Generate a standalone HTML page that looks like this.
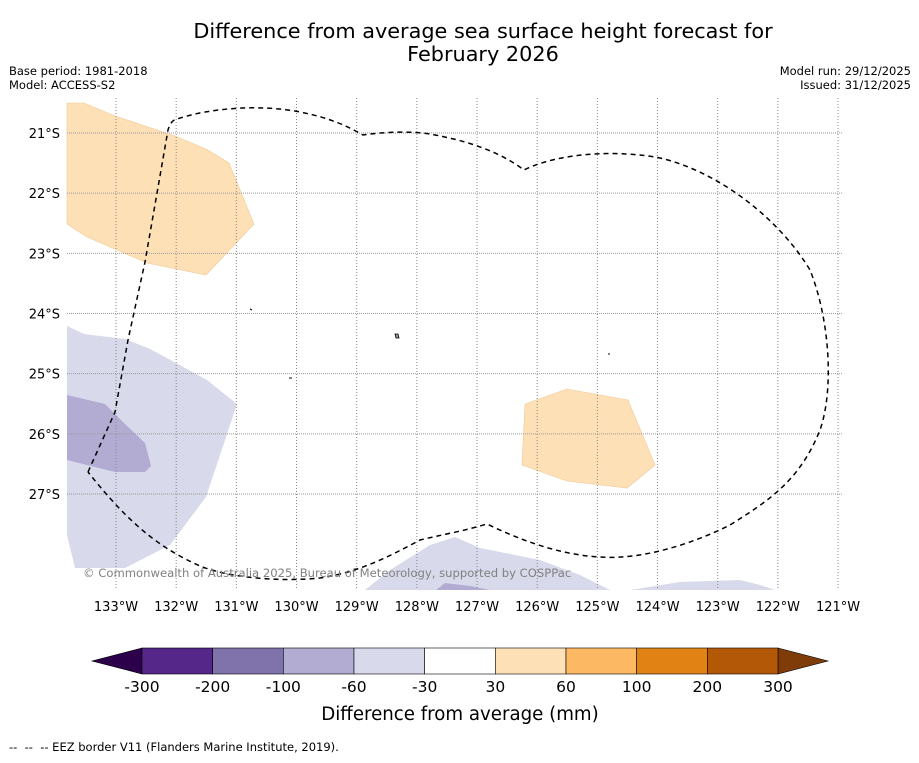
<!DOCTYPE html>
<html><head><meta charset="utf-8"><style>
body{margin:0;background:#fff;}
svg text{font-family:"DejaVu Sans","Liberation Sans",sans-serif;}
</style></head><body>
<svg id="fig" width="919" height="758" xmlns="http://www.w3.org/2000/svg">
<text x="483" y="38" font-size="20.8" text-anchor="middle">Difference from average sea surface height forecast for</text>
<text x="483" y="61" font-size="20.8" text-anchor="middle">February 2026</text>
<text x="9" y="75" font-size="11.5">Base period: 1981-2018</text>
<text x="9" y="89" font-size="11.5">Model: ACCESS-S2</text>
<text x="911" y="75" font-size="11.5" text-anchor="end">Model run: 29/12/2025</text>
<text x="911" y="89" font-size="11.5" text-anchor="end">Issued: 31/12/2025</text>
<g id="map">
<polygon fill="#fee0b6" stroke="#f0c896" stroke-width="0.6" points="67,103 84,103 115,116 175,136 206,149 229,163 254,224 206,275 147,263 87,237 67,224"/>
<polygon fill="#d8daeb" points="67,326 84,334 125,339 150,349 176,363 207,380 237,404 206,497 170,545 125,568 75,568 67,535"/>
<polygon fill="#b2abd2" points="67,395 105,404 125,424 145,443 151,466 145,472 115,472 67,460"/>
<polygon fill="#fee0b6" stroke="#f0c896" stroke-width="0.6" points="525,404 567,389 628,400 655,465 627,488 567,481 522,465"/>
<polygon fill="#d8daeb" points="365,590 390,570 430,545 455,537 480,548 540,560 580,575 610,590"/>
<polygon fill="#b2abd2" points="436,590 445,583 470,586 490,590"/>
<polygon fill="#d8daeb" points="630,590 680,582 740,580 760,585 775,590"/>
<g id="grid"></g>
<path d="M395,334 l3,0 l1,4 l-3,0z" fill="#999" stroke="#000" stroke-width="0.8"/>
<line x1="250" y1="309" x2="252" y2="310" stroke="#000"/>
<line x1="289" y1="378" x2="292" y2="378" stroke="#000"/>
<line x1="608" y1="354" x2="610" y2="354" stroke="#000"/>
<path fill="none" stroke="#000" stroke-width="1.5" stroke-dasharray="5,4" d="M88,472 L115,412 L128,340 L145,262 L168,130 Q171,120 177,119 C210,108 260,104 300,112 C330,118 345,125 363,135 C390,131 420,131 440,136 C470,142 500,152 524,170 C560,152 620,150 660,158 C720,172 780,220 810,270 C830,320 834,390 820,430 C800,480 770,500 730,525 C690,545 640,560 600,557 C560,555 520,540 487,524 C460,532 440,535 420,540 C390,556 360,572 320,578 C280,582 230,578 200,566 C160,548 130,525 88,472"/>
<text x="83" y="577" font-size="11.6" fill="#808080">© Commonwealth of Australia 2025, Bureau of Meteorology, supported by COSPPac</text>
</g>
<g id="cbar"></g>
<text x="460" y="720" font-size="18.2" text-anchor="middle">Difference from average (mm)</text>
<text x="9" y="751" font-size="11.5" xml:space="preserve" style="white-space:pre">--  --  -- EEZ border V11 (Flanders Marine Institute, 2019).</text>
</svg>
<script>
const lonTicks=[133,132,131,130,129,128,127,126,125,124,123,122,121];
const latTicks=[21,22,23,24,25,26,27];
const cbarLevels=[-300,-200,-100,-60,-30,30,60,100,200,300];
const cbarColors=["#542788","#8073ac","#b2abd2","#d8daeb","#ffffff","#fee0b6","#fdb863","#e08214","#b35806"];
const NS="http://www.w3.org/2000/svg";
const X=lon=>116+(133-lon)*60.17;
const Y=lat=>133+(lat-21)*60.17;
function mk(tag,attrs,parent,txt){const e=document.createElementNS(NS,tag);for(const k in attrs)e.setAttribute(k,attrs[k]);if(txt!==undefined)e.textContent=txt;parent.appendChild(e);return e;}
const g=document.getElementById('grid');
const svg=document.getElementById('fig');
lonTicks.forEach(l=>{
  const ln=mk('line',{x1:X(l),x2:X(l),y1:98,y2:590,stroke:'#888','stroke-width':1,'stroke-dasharray':'1,2'},g);
  
  
  const t=mk('text',{x:X(l),y:611,'font-size':13,'text-anchor':'middle'},svg,l+'°W');
  
  
});
latTicks.forEach(l=>{
  const ln=mk('line',{x1:67,x2:843,y1:Y(l),y2:Y(l),stroke:'#999','stroke-width':1,'stroke-dasharray':'1,1'},g);
  
  
  const t=mk('text',{x:60,y:Y(l)+5,'font-size':13,'text-anchor':'end'},svg,l+'°S');
  
  
});
const cb=document.getElementById('cbar');
const cx0=142,cx1=778,cy=648,ch=26,n=cbarColors.length,w=(cx1-cx0)/n;
const lt=mk('polygon',{points:`${cx0},${cy} 92,${cy+ch/2} ${cx0},${cy+ch}`,fill:'#2d004b',stroke:'#000','stroke-width':0.6},cb);


const rt=mk('polygon',{points:`${cx1},${cy} 828,${cy+ch/2} ${cx1},${cy+ch}`,fill:'#7f3b08',stroke:'#000','stroke-width':0.6},cb);


cbarColors.forEach((c,i)=>{
  const r=mk('rect',{x:cx0+i*w,y:cy,width:w,height:ch,fill:c,stroke:'#000','stroke-width':0.6},cb);
  
  
});
cbarLevels.forEach((v,i)=>{
  const t=mk('text',{x:cx0+i*w,y:692,'font-size':15.5,'text-anchor':'middle'},cb,String(v));
  
  
});
</script>
</body></html>
